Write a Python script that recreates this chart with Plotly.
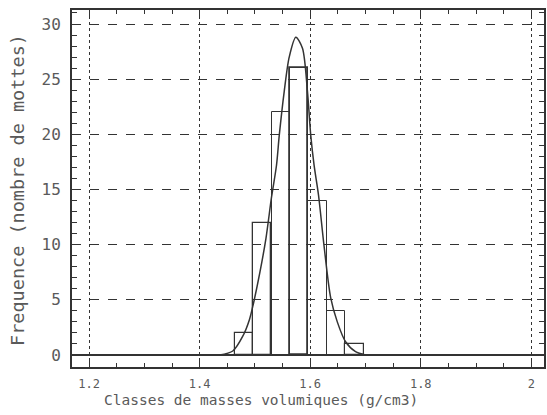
import plotly.graph_objects as go

# Histogram data (class centers in g/cm3, frequencies)
class_centers = [1.48, 1.5133, 1.5467, 1.58, 1.6133, 1.6467, 1.68]
frequencies = [2, 12, 22, 26, 14, 4, 1]
class_width = 0.0333

# Fitted curve, points
curve_x = [1.436, 1.460, 1.478, 1.490, 1.497, 1.509, 1.520, 1.530, 1.539, 1.544,
           1.553, 1.562, 1.574, 1.586, 1.595, 1.601, 1.607, 1.615, 1.625, 1.637,
           1.649, 1.664, 1.682, 1.700]
curve_y = [0, 0.36, 1.7, 3.2, 4.6, 7.5, 10.6, 14.3, 17.2, 19.9,
           23.9, 27.0, 28.8, 27.8, 23.9, 19.9, 17.2, 14.5, 9.9, 5.2,
           3.0, 1.2, 0.3, 0]

x_ticks = [1.2, 1.4, 1.6, 1.8, 2.0]
x_ticklabels = ["1.2", "1.4", "1.6", "1.8", "2"]
y_ticks = [0, 5, 10, 15, 20, 25, 30]

x_title = "Classes de masses volumiques (g/cm3)"
y_title = "Frequence (nombre de mottes)"

INK = "#333333"
TXT = "#5a5a5a"
FONT = "DejaVu Sans Mono"

fig = go.Figure()
fig.add_trace(go.Bar(
    x=class_centers, y=frequencies, width=class_width,
    marker=dict(color="rgba(0,0,0,0)",
                line=dict(color=INK, width=[1.2, 1.3, 1.0, 1.8, 1.0, 1.0, 1.2])),
    showlegend=False, hoverinfo="skip",
))
fig.add_trace(go.Scatter(
    x=curve_x, y=curve_y, mode="lines",
    line=dict(color=INK, width=1.5, shape="spline", smoothing=0.8),
    showlegend=False,
))

fig.update_layout(
    width=547, height=415,
    margin=dict(l=72, r=1, t=10, b=48),
    paper_bgcolor="white", plot_bgcolor="white",
    font=dict(family=FONT, color=TXT),
    bargap=0,
    xaxis=dict(
        range=[1.169, 2.023], tickvals=x_ticks, ticktext=x_ticklabels,
        tickfont=dict(size=12, color=TXT, family=FONT),
        ticks="inside", ticklen=7, tickcolor=INK, tickwidth=1.2,
        ticklabelstandoff=5,
        minor=dict(dtick=0.05, tick0=1.2, ticks="inside", ticklen=4,
                   tickcolor=INK, showgrid=False),
        showline=True, linecolor=INK, linewidth=2, mirror="allticks",
        showgrid=True, gridcolor=INK, gridwidth=1, griddash="dot",
        zeroline=False,
    ),
    yaxis=dict(
        range=[-1.09, 31.27], tickvals=y_ticks,
        tickfont=dict(size=16, color=TXT, family=FONT),
        ticks="inside", ticklen=7, tickcolor=INK, tickwidth=1.2,
        ticklabelstandoff=6,
        minor=dict(dtick=1, tick0=0, ticks="inside", ticklen=5,
                   tickcolor=INK, showgrid=False),
        showline=True, linecolor=INK, linewidth=2, mirror="allticks",
        showgrid=True, gridcolor=INK, gridwidth=1, griddash="dash",
        zeroline=True, zerolinecolor=INK, zerolinewidth=1.6,
    ),
    annotations=[
        dict(text=x_title, xref="paper", yref="paper", x=0.40, y=0,
             yshift=-33, xanchor="center", yanchor="middle", showarrow=False,
             font=dict(size=14.5, color=TXT, family=FONT)),
        dict(text=y_title, xref="paper", yref="paper", x=0, y=0.496,
             xshift=-54, xanchor="center", yanchor="middle", showarrow=False,
             textangle=-90, font=dict(size=18.5, color=TXT, family=FONT)),
    ],
)

fig.write_html("out.html")
